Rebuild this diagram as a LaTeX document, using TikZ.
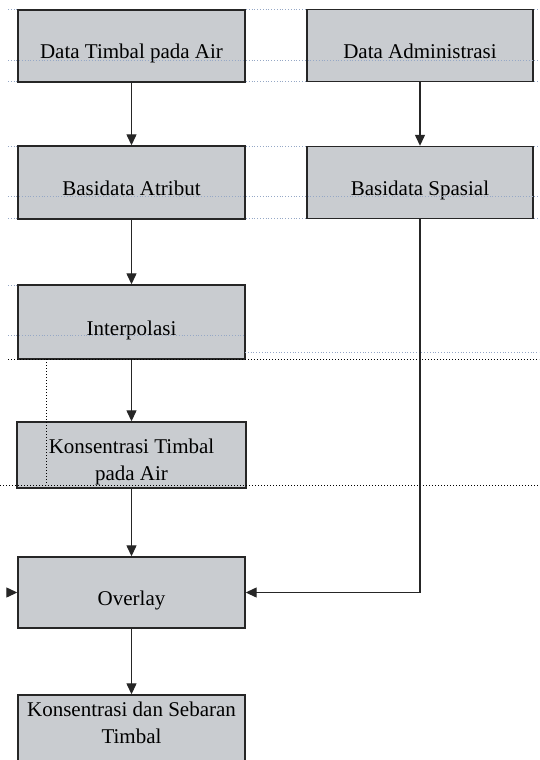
\documentclass[tikz,border=0pt]{standalone}
\usepackage{fontspec}
\setmainfont{Liberation Serif}
\usetikzlibrary{arrows.meta}

\definecolor{boxgray}{RGB}{201,204,208}
\definecolor{gridblue}{RGB}{150,168,198}

\tikzset{
    flowbox/.style={draw=black!85, line width=1.4pt, fill=boxgray, minimum height=72pt,
        inner sep=2pt, align=center, font=\fontsize{21}{27}\selectfont,
        text height=28pt, text depth=2pt},
    leftbox/.style={flowbox, minimum width=227pt},
    rightbox/.style={flowbox, minimum width=226pt},
    flowarrow/.style={draw=black!85, line width=1.3pt, -{Triangle[length=11pt,width=10pt]}},
    gridline/.style={gridblue, dotted, line width=0.8pt},
    frameline/.style={black, dotted, line width=1pt}
}

\begin{document}
\begin{tikzpicture}[x=1pt, y=-1pt]
    \useasboundingbox (0,0) rectangle (539,760);
    \clip (0,0) rectangle (539,760);

    % Gridlines behind the boxes
    \foreach \y in {9, 81, 146, 218}
        \draw[gridline] (8,\y) -- (539,\y);
    \draw[gridline] (8,285) -- (245,285);

    % Boxes
    \node[leftbox] (timbal) at (131.5,46) {Data Timbal pada Air};
    \node[rightbox] (admin) at (420,45.5) {Data Administrasi};
    \node[leftbox, minimum height=73pt] (atribut) at (131.5,182.5) {Basidata Atribut};
    \node[rightbox, minimum height=72pt] (spasial) at (420,182.5) {Basidata Spasial};
    \node[leftbox, minimum height=74pt] (interpolasi) at (131.5,322) {Interpolasi};
    \node[leftbox, minimum width=229pt, minimum height=66pt, text height=52pt, text depth=2pt]
        (konsentrasi) at (131.5,455) {Konsentrasi Timbal\\pada Air};
    \node[leftbox, minimum height=71pt] (overlay) at (131.5,592.5) {Overlay};
    \node[leftbox, minimum height=72pt, text height=26pt, text depth=2pt]
        (sebaran) at (131.5,731) {Konsentrasi dan Sebaran\\Timbal};

    % Gridlines over the boxes
    \foreach \y in {60, 196}
        \draw[gridline] (8,\y) -- (539,\y);
    \draw[gridline] (8,335) -- (245,335);
    \draw[gridline] (245,352) -- (539,352);

    % Text box frame
    \draw[frameline] (8,359) -- (539,359);
    \draw[frameline] (46,359) -- (46,485);
    \draw[frameline] (0,485) -- (539,485);

    % Arrows
    \draw[flowarrow] (timbal) -- (atribut);
    \draw[flowarrow] (admin) -- (spasial);
    \draw[flowarrow] (atribut) -- (interpolasi);
    \draw[flowarrow] (interpolasi) -- (konsentrasi);
    \draw[flowarrow] (konsentrasi) -- (overlay);
    \draw[flowarrow] (spasial.south) |- (overlay.east);
    \draw[flowarrow] (overlay) -- (sebaran);

    % Arrow coming in from the left edge
    \coordinate (stub) at (7,592.5);
    \draw[flowarrow] (stub) -- (overlay.west);
\end{tikzpicture}
\end{document}
